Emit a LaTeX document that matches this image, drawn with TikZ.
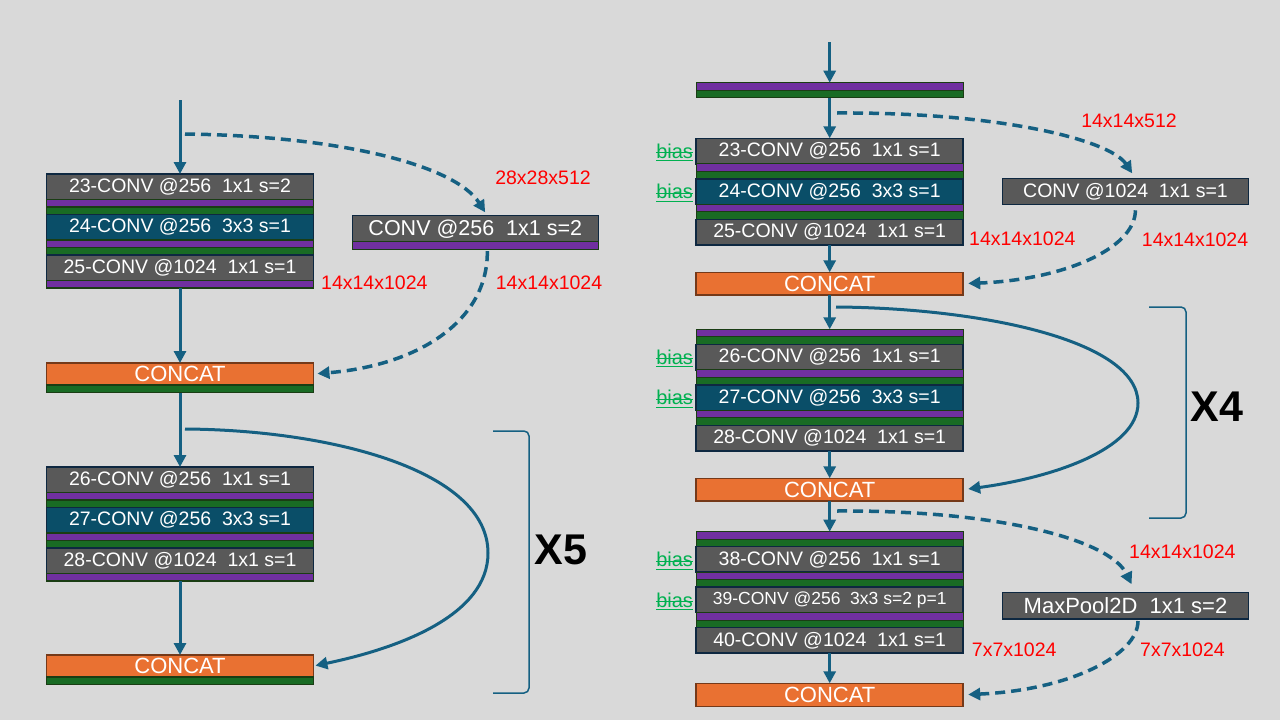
\documentclass[tikz,border=0pt]{standalone}
\usepackage{fontspec}
\setmainfont{Liberation Sans}
\usetikzlibrary{arrows.meta, positioning}
\definecolor{bgc}{HTML}{D9D9D9}
\definecolor{convgrey}{HTML}{595959}
\definecolor{convteal}{HTML}{0A4E68}
\definecolor{navy}{HTML}{0E2841}
\definecolor{barpurple}{HTML}{7030A0}
\definecolor{bargreen}{HTML}{196B24}
\definecolor{bardark}{HTML}{1A3D14}
\definecolor{catorange}{HTML}{E97132}
\definecolor{catbrown}{HTML}{753919}
\definecolor{arrowblue}{HTML}{156082}
\definecolor{biasgreen}{HTML}{00B050}
\newcommand\fsz[1]{\fontsize{#1}{#1}\selectfont}

\begin{document}
\begin{tikzpicture}[x=1pt, y=-1pt,
    conv/.style={draw=navy, line width=1.5pt, fill=convgrey, text=white, minimum width=267pt, minimum height=25.5pt, inner sep=0pt, outer sep=0pt, font=\fsz{19.5}},
    tconv/.style={conv, fill=convteal},
    pbar/.style={draw=bardark, line width=1.2pt, fill=barpurple, minimum width=267pt, minimum height=7.5pt, inner sep=0pt, outer sep=0pt},
    gbar/.style={pbar, fill=bargreen},
    cat/.style={draw=catbrown, line width=1.5pt, fill=catorange, text=white, minimum width=267pt, minimum height=22pt, inner sep=0pt, outer sep=0pt, font=\fsz{22}},
    side/.style={conv, minimum width=246pt, minimum height=26pt},
    dim/.style={text=red, font=\fsz{19.5}, inner sep=0pt},
    bias/.style={text=biasgreen, font=\fsz{20}, inner sep=0pt},
    biasln/.style={draw=biasgreen, line width=1.2pt},
    flow/.style={draw=arrowblue, line width=3pt, -{Triangle[length=12pt,width=12pt]}},
    skip/.style={flow, line width=3.5pt, dash pattern=on 10pt off 6pt},
    brk/.style={draw=arrowblue, line width=1.5pt, rounded corners=5pt},
    rep/.style={font=\fsz{43}\bfseries}
  ]
  \useasboundingbox (0,0) rectangle (1280,720);
  \fill[bgc] (0,0) rectangle (1280,720);

  % left: first block with conv shortcut
  \coordinate (inL) at (180,100);
  \coordinate (s1) at (185,134);
  \node[conv, anchor=north] (c23) at (180,174) {23-CONV @256~~1x1 s=2};
  \node[pbar, below=0pt of c23] (p23) {};
  \node[gbar, below=0pt of p23] (g23) {};
  \node[tconv, below=0pt of g23] (c24) {24-CONV @256~~3x3 s=1};
  \node[pbar, below=0pt of c24] (p24) {};
  \node[gbar, below=0pt of p24] (g24) {};
  \node[conv, below=0pt of g24] (c25) {25-CONV @1024~~1x1 s=1};
  \node[pbar, below=0pt of c25] (p25) {};
  \node[cat, anchor=north] (k1) at (180,363) {CONCAT};
  \node[gbar, below=0pt of k1] (kg1) {};

  \node[side, anchor=north, font=\fsz{21.5}] (sc) at (475.3,215.7) {CONV @256~~1x1 s=2};
  \node[pbar, below=0pt of sc, minimum width=246pt] (sp) {};

  \node[dim, anchor=west] (d1) at (321,283) {14x14x1024};
  \node[dim] (d2) at (543,178) {28x28x512};
  \node[dim, anchor=west] (d3) at (495.7,283) {14x14x1024};

  \draw[flow] (inL) -- (c23);
  \draw[flow] (p25) -- (k1);
  \draw[skip, shorten >=4pt] (s1) .. controls (340,136) and (455,165) .. ([xshift=12pt]sc.north);
  \draw[skip, shorten <=2pt, shorten >=4pt] ([xshift=12pt]sp.south) .. controls (488,320) and (420,365) .. (k1.east);

  % left: repeated block
  \coordinate (s2) at (185,429);
  \node[conv, anchor=north] (c26) at (180,467) {26-CONV @256~~1x1 s=1};
  \node[pbar, below=0pt of c26] (p26) {};
  \node[gbar, below=0pt of p26] (g26) {};
  \node[tconv, below=0pt of g26] (c27) {27-CONV @256~~3x3 s=1};
  \node[pbar, below=0pt of c27] (p27) {};
  \node[gbar, below=0pt of p27] (g27) {};
  \node[conv, below=0pt of g27] (c28) {28-CONV @1024~~1x1 s=1};
  \node[pbar, below=0pt of c28] (p28) {};
  \node[cat, anchor=north] (k2) at (180,655) {CONCAT};
  \node[gbar, below=0pt of k2] (kg2) {};

  \draw[flow] (kg1) -- (c26);
  \draw[flow] (p28) -- (k2);
  \draw[flow, shorten >=2pt] (s2) .. controls (330,430) and (488,470) .. (488,553) .. controls (488,615) and (400,648) .. (k2.east);
  \draw[brk] (493,431) -- (529,431) -- (529,693) -- (493,693);
  \node[rep] (x5) at (561,550) {X5};

  % right: first block
  \coordinate (inR) at (829.7,42);
  \coordinate (t1) at (837,113);
  \node[pbar, anchor=north] (tp) at (829.7,82.7) {};
  \node[gbar, below=0pt of tp] (tg) {};
  \node[conv, anchor=north] (r23) at (829.7,138.3) {23-CONV @256~~1x1 s=1};
  \node[pbar, below=0pt of r23] (q23) {};
  \node[gbar, below=0pt of q23] (h23) {};
  \node[tconv, below=0pt of h23] (r24) {24-CONV @256~~3x3 s=1};
  \node[pbar, below=0pt of r24] (q24) {};
  \node[gbar, below=0pt of q24] (h24) {};
  \node[conv, below=0pt of h24] (r25) {25-CONV @1024~~1x1 s=1};
  \node[cat, anchor=north, minimum height=22.7pt] (rk1) at (829.7,272.3) {CONCAT};

  \node[side, anchor=north] (sr) at (1125.5,178.3) {CONV @1024~~1x1 s=1};

  \node[dim] (e1) at (1129,121) {14x14x512};
  \node[dim, anchor=west] (e2) at (969,238.5) {14x14x1024};
  \node[dim, anchor=west] (e3) at (1141.7,239.3) {14x14x1024};

  \draw[flow] (inR) -- (tp);
  \draw[flow] (tg) -- (r23);
  \draw[flow] (r25) -- (rk1);
  \draw[skip, shorten >=6pt] (t1) .. controls (1000,112) and (1110,140) .. ([xshift=10pt]sr.north);
  \draw[skip, shorten <=6pt, shorten >=5pt] ([xshift=10pt]sr.south) .. controls (1135,250) and (1060,280) .. (rk1.east);

  % right: repeated block
  \coordinate (t2) at (836,307);
  \node[pbar, anchor=north] (tp2) at (829.7,329.3) {};
  \node[gbar, below=0pt of tp2] (tg2) {};
  \node[conv, below=0pt of tg2] (r26) {26-CONV @256~~1x1 s=1};
  \node[pbar, below=0pt of r26] (q26) {};
  \node[gbar, below=0pt of q26] (h26) {};
  \node[tconv, below=0pt of h26] (r27) {27-CONV @256~~3x3 s=1};
  \node[pbar, below=0pt of r27] (q27) {};
  \node[gbar, below=0pt of q27] (h27) {};
  \node[conv, below=0pt of h27] (r28) {28-CONV @1024~~1x1 s=1};
  \node[cat, anchor=north, minimum height=22.7pt] (rk2) at (829.7,478.3) {CONCAT};

  \draw[flow] (rk1) -- (tp2);
  \draw[flow] (r28) -- (rk2);
  \draw[flow, shorten >=5pt] (t2) .. controls (980,308) and (1138,340) .. (1138,403) .. controls (1138,450) and (1050,478) .. (rk2.east);
  \draw[brk] (1149,307) -- (1186,307) -- (1186,518) -- (1149,518);
  \node[rep] (x4) at (1217,407) {X4};

  % right: downsampling block
  \coordinate (t3) at (837,511);
  \node[pbar, anchor=north] (tp3) at (829.7,531.7) {};
  \node[gbar, below=0pt of tp3] (tg3) {};
  \node[conv, below=0pt of tg3] (r38) {38-CONV @256~~1x1 s=1};
  \node[pbar, below=0pt of r38] (q38) {};
  \node[gbar, below=0pt of q38] (h38) {};
  \node[conv, below=0pt of h38, font=\fsz{17.5}] (r39) {39-CONV @256~~3x3 s=2 p=1};
  \node[pbar, below=0pt of r39] (q39) {};
  \node[gbar, below=0pt of q39] (h39) {};
  \node[conv, below=0pt of h39] (r40) {40-CONV @1024~~1x1 s=1};
  \node[cat, anchor=north, minimum height=23pt] (rk3) at (829.7,683.3) {CONCAT};

  \node[side, anchor=north, minimum height=26.7pt, font=\fsz{22}] (mp) at (1125.5,592.3) {MaxPool2D~~1x1 s=2};

  \node[dim, anchor=west] (e4) at (1129,551.7) {14x14x1024};
  \node[dim, anchor=west] (e5) at (971.7,650) {7x7x1024};
  \node[dim, anchor=west] (e6) at (1140,650) {7x7x1024};

  \draw[flow] (rk2) -- (tp3);
  \draw[flow] (r40) -- (rk3);
  \draw[skip, shorten >=9pt] (t3) .. controls (1000,510) and (1110,540) .. ([xshift=10pt]mp.north);
  \draw[skip, shorten <=2pt, shorten >=5pt] ([xshift=12.5pt]mp.south) .. controls (1138,655) and (1070,690) .. (rk3.east);

  % struck-out bias tags
  \foreach \n in {23,24,26,27,38,39}
    \node[bias, left=3pt of r\n] (b\n) {bias};
  \foreach \n in {23,24,26,27,38,39} {
    \draw[biasln] ([yshift=5.5pt]b\n.base west) -- ([yshift=5.5pt]b\n.base east);
    \draw[biasln] ([yshift=-2.5pt]b\n.base west) -- ([yshift=-2.5pt]b\n.base east);
  }
\end{tikzpicture}
\end{document}
